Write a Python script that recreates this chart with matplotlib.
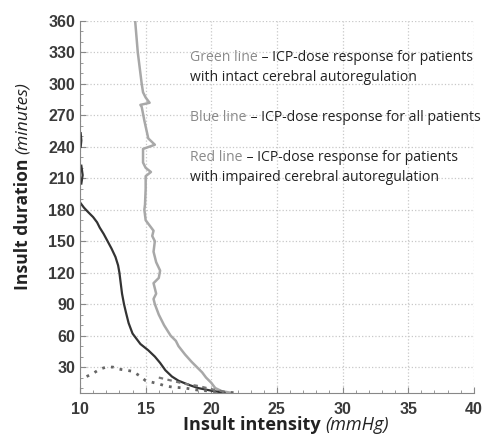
import matplotlib.pyplot as plt

# ICP-dose response curves
green_x = [14.2, 14.3, 14.4, 14.5, 14.6, 14.7, 14.8, 15.0, 15.3, 14.6, 14.7, 14.9, 15.2, 15.7,
           14.8, 14.8, 15.0, 15.4, 15.0, 15.0, 14.95, 14.9, 15.0, 15.3, 15.6, 15.5, 15.7, 15.6,
           15.8, 16.1, 16.0, 15.6, 15.8, 15.6, 15.7, 16.0, 16.4, 16.9, 17.3, 17.5, 18.0, 18.5,
           18.9, 19.3, 19.6, 20.0, 20.3, 20.8, 21.5]
green_y = [360, 345, 330, 320, 310, 300, 292, 287, 282, 280, 278, 265, 248, 242,
           238, 225, 220, 216, 212, 200, 185, 180, 170, 165, 160, 155, 150, 140,
           130, 122, 115, 110, 100, 95, 90, 80, 70, 60, 55, 50, 42, 35,
           30, 25, 20, 15, 10, 7, 5.5]

blue_x = [10.0, 10.3, 10.6, 11.0, 11.3, 11.5, 11.8, 12.1, 12.4, 12.7, 12.9, 13.0, 13.1, 13.2,
          13.35, 13.5, 13.7, 14.0, 14.3, 14.6, 15.2, 15.7, 16.1, 16.5, 17.0, 17.5, 18.3, 19.0,
          20.0, 21.0]
blue_y = [187, 182, 178, 173, 168, 163, 157, 150, 143, 135, 127, 120, 110, 100,
          90, 82, 72, 62, 57, 52, 46, 40, 34, 27, 21, 17, 13, 10, 7.5, 5.5]
blue_seg1_x = [10.05, 10.1, 10.05]
blue_seg1_y = [253, 246, 240]
blue_seg2_x = [10.1, 10.2, 10.1]
blue_seg2_y = [222, 213, 205]

red_x = [10.5, 11.0, 11.5, 12.0, 12.5, 13.0, 13.5, 14.0, 14.5, 15.0, 15.5, 16.0, 16.5, 17.0,
         18.0, 19.0, 20.0, 21.0, 22.0]
red_y = [21, 24, 28, 30, 30, 28, 27, 26, 22, 17, 15.5, 14, 12, 11, 10, 8, 7, 6, 5.5]
red2_x = [16.0, 17.0, 18.0, 19.0, 20.0, 21.0]
red2_y = [20, 17, 14, 12, 9, 6.5]

notes = [
    (325, 'Green line', ' – ICP-dose response for patients'),
    (306, '', 'with intact cerebral autoregulation'),
    (268, 'Blue line', ' – ICP-dose response for all patients'),
    (230, 'Red line', ' – ICP-dose response for patients'),
    (211, '', 'with impaired cerebral autoregulation'),
]

fig = plt.figure(figsize=(4.85, 4.37), dpi=100)
ax = fig.add_axes([0.165, 0.1, 0.812, 0.852])

ax.plot(green_x, green_y, color='#a8a8a8', lw=1.8)
ax.plot(blue_x, blue_y, color='#333333', lw=1.6)
ax.plot(blue_seg1_x, blue_seg1_y, color='#333333', lw=1.6)
ax.plot(blue_seg2_x, blue_seg2_y, color='#333333', lw=1.6)
ax.plot(red_x, red_y, color='#666666', lw=2.0, ls=(0, (1, 2.2)))
ax.plot(red2_x, red2_y, color='#777777', lw=1.6, ls=(0, (2, 2)))

ax.set_xlim(10, 40)
ax.set_ylim(5, 360)
ax.set_xticks(range(10, 41, 5))
ax.set_yticks(range(30, 361, 30))
ax.set_xticks(range(10, 41, 1), minor=True)
ax.set_yticks(range(10, 361, 10), minor=True)
ax.grid(True, which='major', ls=':', color='#c8c8c8', lw=0.9)
ax.tick_params(which='both', direction='in', color='#888888')
ax.tick_params(which='major', length=4)
ax.tick_params(which='minor', length=2.5)
ax.tick_params(axis='x', pad=6)
for lab in ax.get_xticklabels() + ax.get_yticklabels():
    lab.set_fontfamily('Liberation Sans')
    lab.set_fontsize(11.5)
    lab.set_fontweight('bold')
    lab.set_color('#3a3a3a')
ax.spines['top'].set_visible(False)
ax.spines['right'].set_visible(False)
ax.spines['left'].set_color('#888888')
ax.spines['bottom'].set_color('#888888')

for y, head, rest in notes:
    t = ax.text(18.4, y, head, fontsize=10.1, family='Open Sans', color='#8a8a8a', va='center')
    ax.annotate(rest, xy=(1, 0.5), xycoords=t, va='center', fontsize=10.1,
                family='Open Sans', color='#222222')

# axis titles: bold part + italic part
xl = fig.text(0.378, 0.027, 'Insult intensity ', fontsize=13.1, fontweight='bold',
              family='Open Sans', color='#222222', ha='left', va='center')
ax.annotate('(mmHg)', xy=(1, 0.5), xycoords=xl, fontsize=13.1, style='italic',
            family='Open Sans', color='#222222', ha='left', va='center')
yl = fig.text(0.047, 0.336, 'Insult duration ', fontsize=12.6, fontweight='bold', rotation=90,
              family='Open Sans', color='#222222', ha='center', va='bottom')
ax.annotate('(minutes)', xy=(0.5, 1), xycoords=yl, fontsize=12.6, style='italic', rotation=90,
            family='Open Sans', color='#222222', ha='center', va='bottom')

fig.savefig('out.png', dpi=100)
